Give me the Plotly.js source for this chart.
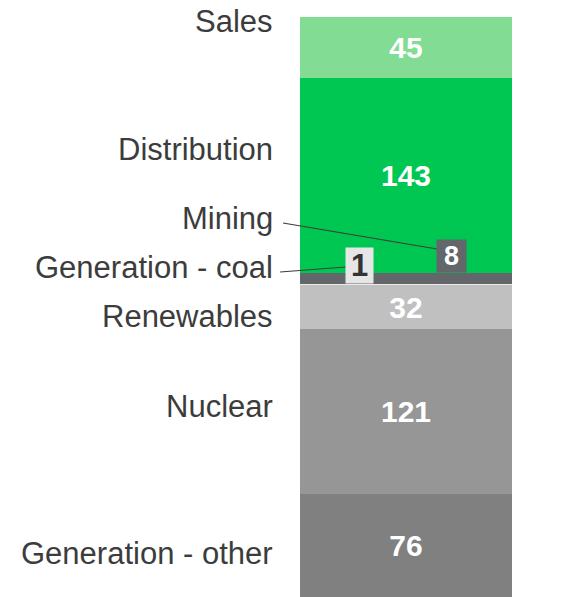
<!DOCTYPE html>
<html>
<head>
<meta charset="utf-8">
<script src="https://cdn.plot.ly/plotly-3.0.1.min.js"></script>
<style>html,body{margin:0;padding:0;background:#fff;}#chart{width:585px;height:597px;}</style>
</head>
<body>
<div id="chart"></div>
<script>
// Data (bottom to top of the stacked bar)
const segments = ["Generation - other", "Nuclear", "Renewables", "Generation - coal", "Mining", "Distribution", "Sales"];
const values = [76, 121, 32, 1, 8, 143, 45];
const colors = ["#808080", "#969696", "#c0c0c0", "#ebebeb", "#63666a", "#00c752", "#82dc94"];
// Segments whose value is shown in a side box instead of inside the bar
const boxed = ["Generation - coal", "Mining"];

// Style: label vertical pixel shifts relative to segment center
const labelShift = [-8, 5, -9, 17, 60, 26, 26];
const boxX = {"Generation - coal": 0.281, "Mining": 0.715};
const boxBg = {"Generation - coal": "#e6e6e6", "Mining": "#63666a"};
const boxFg = {"Generation - coal": "#333333", "Mining": "#ffffff"};
const boxSize = {"Generation - coal": 31, "Mining": 27};
const boxW = {"Generation - coal": 27, "Mining": 29};
const boxH = {"Generation - coal": 35, "Mining": 32};

const FONT = "Liberation Sans, Arial, sans-serif";
const total = values.reduce((a, b) => a + b, 0);

const traces = segments.map((s, i) => ({
  type: "bar",
  x: [""],
  y: [values[i]],
  name: s,
  marker: {color: colors[i], line: {width: 0}},
  text: boxed.includes(s) ? [""] : [String(values[i])],
  textposition: "inside",
  insidetextanchor: "middle",
  textangle: 0,
  constraintext: "none",
  textfont: {family: FONT, size: 30, color: "#ffffff", weight: "bold"},
  hoverinfo: "skip",
  showlegend: false,
  width: 1
}));

const annotations = [];
let cum = 0;
segments.forEach((s, i) => {
  const mid = cum + values[i] / 2;
  const top = cum + values[i];
  annotations.push({
    xref: "paper", yref: "y", x: 0, y: mid, xanchor: "right", yanchor: "middle",
    xshift: -25, yshift: labelShift[i], showarrow: false,
    text: s, font: {family: FONT, size: 31, color: "#3c3c3c"}
  });
  if (boxed.includes(s)) {
    annotations.push({
      xref: "paper", yref: "y", x: boxX[s], y: top, xanchor: "center", yanchor: "bottom",
      showarrow: false, text: "<b>" + values[i] + "</b>",
      font: {family: FONT, size: boxSize[s], color: boxFg[s]},
      bgcolor: boxBg[s], borderpad: 0, width: boxW[s], height: boxH[s], valign: "middle"
    });
  }
  cum = top;
});

// leader lines (decoration, paper coords)
const shapes = [
  {type: "line", xref: "paper", yref: "paper", x0: -0.080, y0: 0.6448, x1: 0.646, y1: 0.600, line: {color: "#3c3c3c", width: 1.2}},
  {type: "line", xref: "paper", yref: "paper", x0: -0.094, y0: 0.5603, x1: 0.217, y1: 0.569, line: {color: "#3c3c3c", width: 1.2}}
];

const layout = {
  width: 585, height: 597,
  margin: {l: 300, r: 73, t: 17, b: 0, pad: 0},
  paper_bgcolor: "#ffffff", plot_bgcolor: "#ffffff",
  barmode: "stack", bargap: 0,
  xaxis: {range: [-0.5, 0.5], visible: false, fixedrange: true},
  yaxis: {range: [0, total], visible: false, fixedrange: true},
  annotations: annotations,
  shapes: shapes,
  showlegend: false
};

Plotly.newPlot("chart", traces, layout, {displayModeBar: false, staticPlot: true});
</script>
</body>
</html>
